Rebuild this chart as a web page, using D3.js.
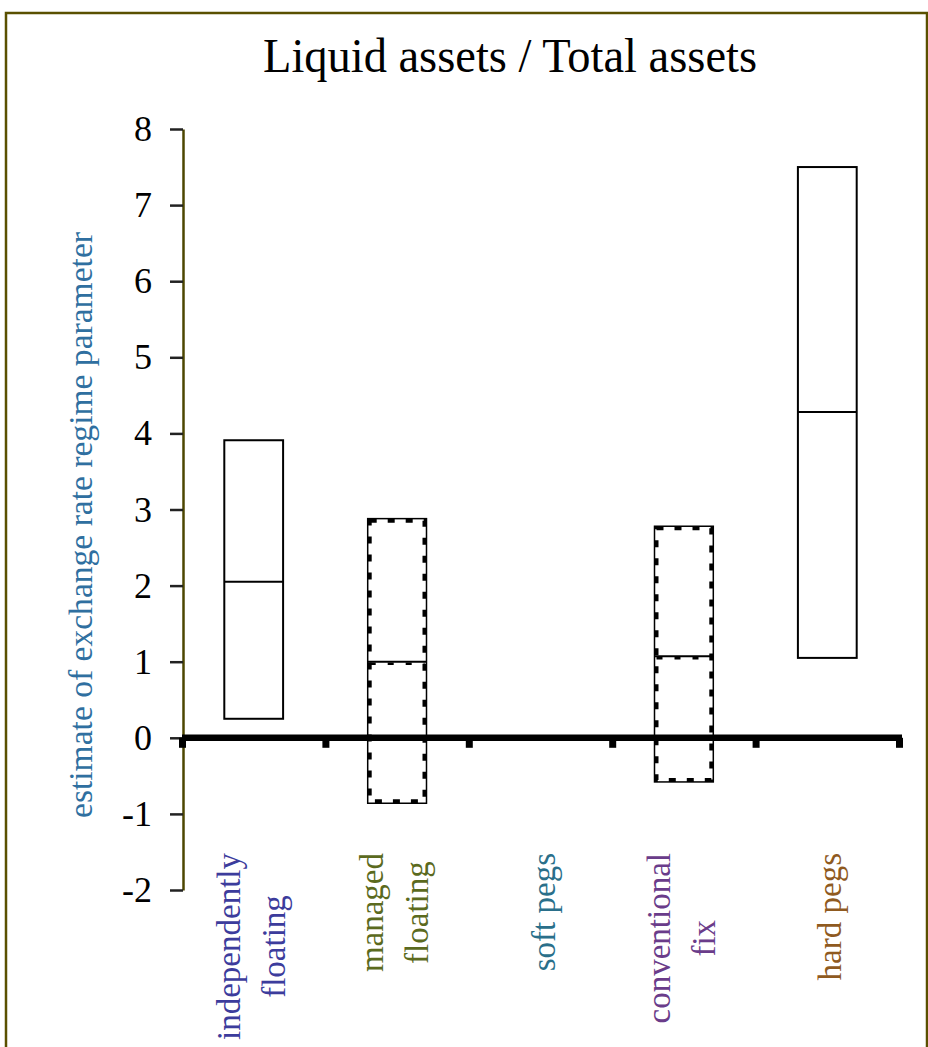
<!DOCTYPE html>
<html>
<head>
<meta charset="utf-8">
<script src="https://cdn.jsdelivr.net/npm/d3@7"></script>
<style>
  body { margin: 0; background: #fff; }
  svg { display: block; }
</style>
</head>
<body>
<div id="chart"></div>
<script>
// regime categories (label lines) and box estimates
const categories = ['independently floating', 'managed floating', 'soft pegs', 'conventional fix', 'hard pegs'];
const labelLines = [['independently', 'floating'], ['managed', 'floating'], ['soft pegs'], ['conventional', 'fix'], ['hard pegs']];
const upper = [3.91, 2.88, null, 2.78, 7.50];
const point = [2.05, 1.00, null, 1.07, 4.28];
const lower = [0.25, -0.86, null, -0.58, 1.05];
const dashed = [false, true, false, true, false];
const yTicks = [-2, -1, 0, 1, 2, 3, 4, 5, 6, 7, 8];
const labelColors = ['#3c3c9c', '#5b6a1e', '#2a6f8a', '#6a3c8a', '#8f5a1f'];

const width = 928, height = 1047;
const serif = '"Liberation Serif", "Times New Roman", serif';

const svg = d3.select('#chart').append('svg')
  .attr('width', width)
  .attr('height', height);

// outer frame
svg.append('rect')
  .attr('x', 6).attr('y', 13)
  .attr('width', 921).attr('height', 1060)
  .attr('fill', '#fff')
  .attr('stroke', '#5a5000')
  .attr('stroke-width', 2.5);

const y = d3.scaleLinear().domain([-2, 8]).range([890, 129]);
const edge = d3.scaleLinear().domain([0, categories.length]).range([182, 899]);
const x = d3.scaleBand().domain(categories).range([182, 899]);
const boxW = x.bandwidth() * 0.41;

// title
svg.append('text')
  .attr('x', 510).attr('y', 72)
  .attr('text-anchor', 'middle')
  .attr('font-family', serif)
  .attr('font-size', 48)
  .attr('textLength', 494)
  .attr('lengthAdjust', 'spacingAndGlyphs')
  .attr('fill', '#000')
  .text('Liquid assets / Total assets');

// y axis
svg.append('g')
  .attr('class', 'axis axis-left')
  .attr('transform', 'translate(183,0)')
  .call(d3.axisLeft(y).tickValues(yTicks).tickSize(13).tickSizeOuter(0).tickPadding(18).tickFormat(d => String(d)))
  .call(g => g.select('.domain').attr('stroke', '#4d4600').attr('stroke-width', 2.5))
  .call(g => g.selectAll('.tick line').attr('stroke', '#222').attr('stroke-width', 2.5))
  .call(g => g.selectAll('.tick text')
    .attr('font-family', serif)
    .attr('font-size', 36)
    .attr('fill', '#000'));

// y axis title
svg.append('text')
  .attr('transform', 'translate(92,525) rotate(-90)')
  .attr('text-anchor', 'middle')
  .attr('font-family', serif)
  .attr('font-size', 33)
  .attr('textLength', 586)
  .attr('lengthAdjust', 'spacingAndGlyphs')
  .attr('fill', '#2f6fa0')
  .text('estimate of exchange rate regime parameter');

// boxes
const data = categories.map((c, i) => ({
  cat: c, hi: upper[i], mid: point[i], lo: lower[i], dashed: dashed[i]
})).filter(d => d.hi !== null);

const boxes = svg.append('g').attr('class', 'boxes')
  .selectAll('g')
  .data(data)
  .enter()
  .append('g')
  .attr('transform', d => `translate(${x(d.cat) + x.bandwidth() / 2 - boxW / 2},0)`);

boxes.append('rect')
  .attr('x', 0)
  .attr('y', d => y(d.hi))
  .attr('width', boxW)
  .attr('height', d => y(d.lo) - y(d.hi))
  .attr('fill', '#fff')
  .attr('stroke', '#000')
  .attr('stroke-width', d => d.dashed ? 1.5 : 2);

boxes.filter(d => d.dashed)
  .append('rect')
  .attr('x', 2)
  .attr('y', d => y(d.hi) + 2)
  .attr('width', boxW - 4)
  .attr('height', d => y(d.lo) - y(d.hi) - 4)
  .attr('fill', 'none')
  .attr('stroke', '#000')
  .attr('stroke-width', 4)
  .attr('stroke-dasharray', '7 11');

boxes.append('line')
  .attr('x1', 0).attr('x2', boxW)
  .attr('y1', d => y(d.mid)).attr('y2', d => y(d.mid))
  .attr('stroke', '#000')
  .attr('stroke-width', 2);

boxes.filter(d => d.dashed)
  .append('line')
  .attr('x1', 2).attr('x2', boxW - 2)
  .attr('y1', d => y(d.mid) + 2).attr('y2', d => y(d.mid) + 2)
  .attr('stroke', '#000')
  .attr('stroke-width', 2.5)
  .attr('stroke-dasharray', '6 12');

// thick zero axis with square ticks at the category edges
svg.append('g')
  .attr('class', 'axis axis-bottom')
  .attr('transform', `translate(0,${y(0)})`)
  .call(d3.axisBottom(edge).tickValues(d3.range(categories.length + 1)).tickSize(10).tickSizeOuter(0).tickFormat(''))
  .call(g => g.select('.domain').attr('stroke', '#000').attr('stroke-width', 6.5)
    .attr('d', `M${edge(0)},0H${edge(categories.length) + 3}`))
  .call(g => g.selectAll('.tick line').attr('stroke', '#000').attr('stroke-width', 7));

// category labels, rotated
const labels = svg.append('g').attr('class', 'x-labels');
labelLines.forEach((lines, i) => {
  const cx = x(categories[i]) + x.bandwidth() / 2;
  const g = labels.append('g');
  const texts = lines.map((line, j) => g.append('text')
    .attr('text-anchor', 'middle')
    .attr('font-family', serif)
    .attr('font-size', 33)
    .attr('fill', labelColors[i])
    .text(line));
  const maxLen = d3.max(texts, t => t.node().getComputedTextLength());
  const cy = 853 + maxLen / 2;
  const first = -(lines.length - 1) * 22.5 + (lines.length === 1 ? 14 : 8.5);
  texts.forEach((t, j) => {
    t.attr('transform', `translate(${cx + first + j * 45},${cy}) rotate(-90)`);
  });
});
</script>
</body>
</html>
